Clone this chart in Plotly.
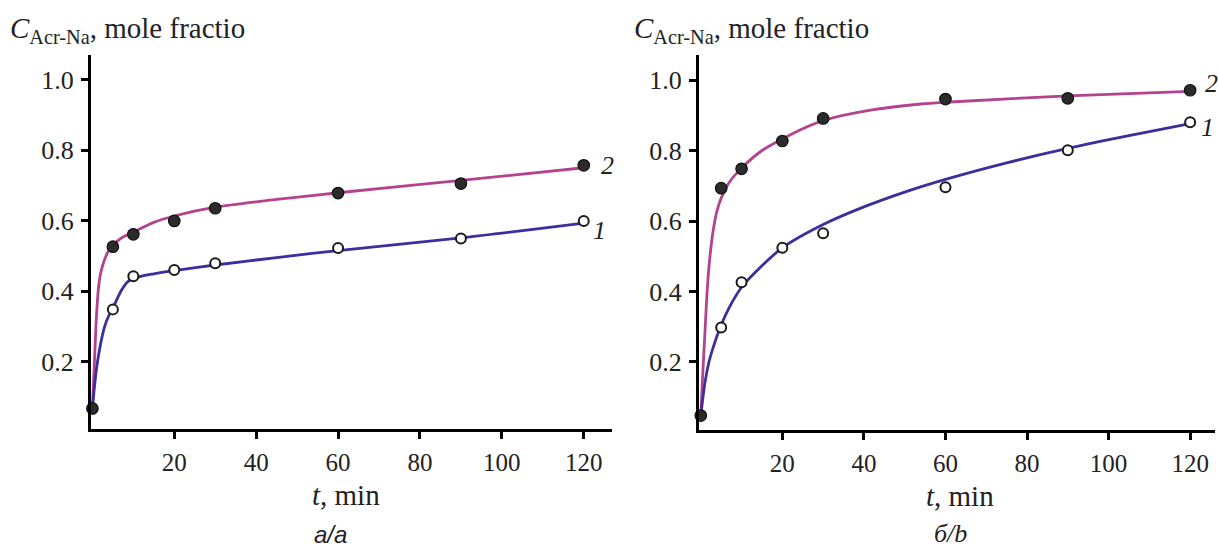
import plotly.graph_objects as go

# ---------------- data ----------------
t_points = [0, 5, 10, 20, 30, 60, 90, 120]

# panel a
a_s1_points = [0.067, 0.348, 0.442, 0.460, 0.479, 0.522, 0.549, 0.599]
a_s2_points = [0.067, 0.526, 0.561, 0.599, 0.635, 0.678, 0.705, 0.757]
a_s1_curve_t = [0, 1, 2, 3, 4, 5, 7, 8.5, 10, 15, 20, 30, 45, 60, 90, 120]
a_s1_curve_v = [0.067, 0.18, 0.25, 0.30, 0.33, 0.352, 0.40, 0.425, 0.436, 0.449, 0.458, 0.474, 0.495, 0.515, 0.551, 0.593]
a_s2_curve_t = [0, 0.5, 1, 1.5, 2, 3, 4, 5, 7, 10, 15, 20, 30, 45, 60, 90, 120]
a_s2_curve_v = [0.067, 0.20, 0.33, 0.41, 0.45, 0.49, 0.515, 0.53, 0.55, 0.567, 0.595, 0.613, 0.638, 0.660, 0.679, 0.714, 0.750]

# panel b
b_s1_points = [0.048, 0.298, 0.426, 0.524, 0.565, 0.696, 0.801, 0.880]
b_s2_points = [0.048, 0.693, 0.748, 0.827, 0.891, 0.946, 0.948, 0.971]
b_s1_curve_t = [0, 1, 2, 3, 5, 7, 10, 15, 20, 30, 40, 50, 60, 75, 90, 105, 120]
b_s1_curve_v = [0.048, 0.14, 0.20, 0.24, 0.305, 0.355, 0.412, 0.473, 0.524, 0.590, 0.640, 0.682, 0.718, 0.765, 0.806, 0.842, 0.876]
b_s2_curve_t = [0, 0.5, 1, 1.5, 2, 3, 4, 5, 7, 10, 15, 20, 25, 30, 42, 54, 60, 90, 120]
b_s2_curve_v = [0.048, 0.17, 0.28, 0.39, 0.47, 0.57, 0.63, 0.665, 0.71, 0.75, 0.80, 0.833, 0.862, 0.885, 0.915, 0.932, 0.937, 0.955, 0.968]

x_tickvals = [20, 40, 60, 80, 100, 120]
y_tickvals = [0.2, 0.4, 0.6, 0.8, 1.0]
y_ticktext = ["0.2", "0.4", "0.6", "0.8", "1.0"]

PINK = "#b4428f"
BLUE = "#3a2f9c"
SERIF = "Liberation Serif"

fig = go.Figure()

def add_panel(xa, ya, c1t, c1v, c2t, c2v, p1, p2):
    fig.add_trace(go.Scatter(x=c2t, y=c2v, xaxis=xa, yaxis=ya, mode="lines",
                             line=dict(color=PINK, width=2.8, shape="spline", smoothing=0.8),
                             showlegend=False, hoverinfo="skip"))
    fig.add_trace(go.Scatter(x=c1t, y=c1v, xaxis=xa, yaxis=ya, mode="lines",
                             line=dict(color=BLUE, width=2.8, shape="spline", smoothing=0.8),
                             showlegend=False, hoverinfo="skip"))
    fig.add_trace(go.Scatter(x=t_points[1:], y=p1[1:], xaxis=xa, yaxis=ya, mode="markers",
                             marker=dict(size=10, color="white", line=dict(color="#1a1a1a", width=2)),
                             showlegend=False, cliponaxis=False))
    fig.add_trace(go.Scatter(x=t_points, y=p2, xaxis=xa, yaxis=ya, mode="markers",
                             marker=dict(size=11.5, color="#2b2b2b", line=dict(color="#111111", width=1.2)),
                             showlegend=False, cliponaxis=False))

add_panel("x", "y", a_s1_curve_t, a_s1_curve_v, a_s2_curve_t, a_s2_curve_v, a_s1_points, a_s2_points)
add_panel("x2", "y2", b_s1_curve_t, b_s1_curve_v, b_s2_curve_t, b_s2_curve_v, b_s1_points, b_s2_points)

W, H = 1219, 550

def px_x(p):
    return p / W

def px_y(p):
    return 1 - p / H

common_x = dict(showline=True, linecolor="black", linewidth=3, ticks="outside", ticklen=7,
                tickwidth=3, tickcolor="black", tickvals=x_tickvals, showgrid=False, zeroline=False,
                tickfont=dict(family=SERIF, size=25, color="#222"), ticklabelstandoff=2)
common_y = dict(showline=True, linecolor="black", linewidth=3, ticks="outside", ticklen=7,
                tickwidth=3, tickcolor="black", tickvals=y_tickvals, ticktext=y_ticktext,
                showgrid=False, zeroline=False,
                tickfont=dict(family=SERIF, size=26, color="#222"), ticklabelstandoff=2)

fig.update_layout(
    width=W, height=H, margin=dict(l=0, r=0, t=0, b=0),
    paper_bgcolor="white", plot_bgcolor="white",
    xaxis=dict(common_x, domain=[px_x(91), px_x(612)], range=[-0.34, 126.9], anchor="y"),
    yaxis=dict(common_y, domain=[px_y(429), px_y(55)], range=[0.0085, 1.07], anchor="x"),
    xaxis2=dict(common_x, domain=[px_x(699), px_x(1215)], range=[-0.44, 126.1], anchor="y2"),
    yaxis2=dict(common_y, domain=[px_y(430), px_y(55)], range=[0.007, 1.071], anchor="x2"),
)

def ann(text, x, y, size, family=SERIF, xanchor="center", yanchor="middle", color="#222"):
    fig.add_annotation(text=text, x=px_x(x), y=px_y(y), xref="paper", yref="paper",
                       showarrow=False, xanchor=xanchor, yanchor=yanchor,
                       font=dict(family=family, size=size, color=color))

title = "<i>C</i><sub>Acr-Na</sub>, mole fractio"
ann(title, 8, 30, 29, xanchor="left")
ann(title, 632, 30, 29, xanchor="left")

ann("<i>t</i>, min", 346, 495, 29)
ann("<i>t</i>, min", 960, 496, 29)

ann("<i>а/а</i>", 330, 534, 24, family="Liberation Sans")
ann("<i>б/b</i>", 950, 533, 26, family="Liberation Serif")

ann("<i>2</i>", 607, 166, 26)
ann("<i>1</i>", 599, 231, 26)
ann("<i>2</i>", 1211, 84, 26)
ann("<i>1</i>", 1207, 127, 26)

fig.write_html("out.html", config={"displayModeBar": False},
               post_script="document.body.style.margin='0px';document.body.style.overflow='hidden';")
